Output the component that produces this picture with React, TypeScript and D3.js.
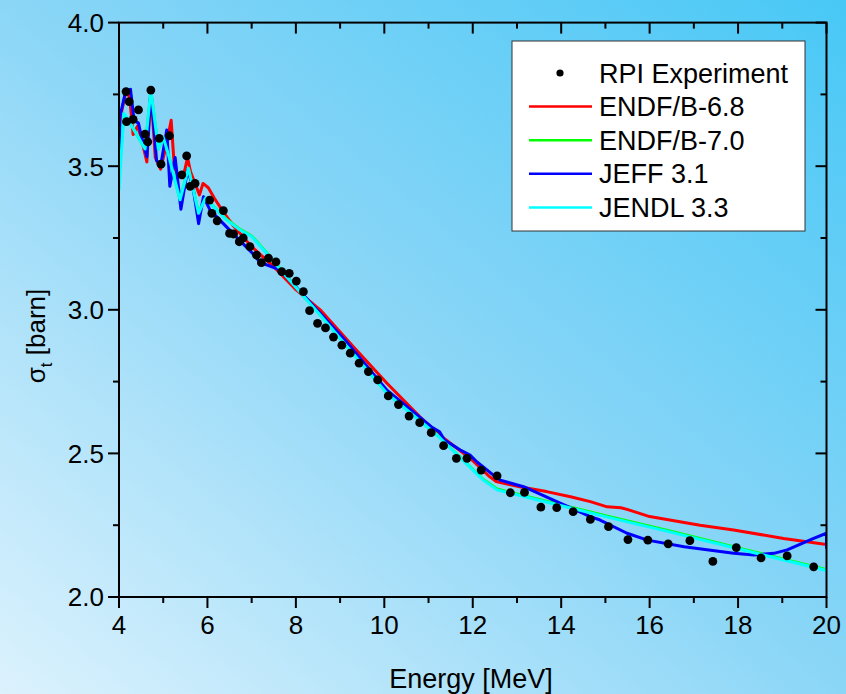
import React from "react";
import * as d3 from "d3";

const W = 846;
const H = 694;

// Experimental data (RPI)
const expE = [4.16, 4.17, 4.23, 4.32, 4.44, 4.59, 4.65, 4.72, 4.91, 4.95, 5.14, 5.42, 5.53, 5.61, 5.72, 6.05, 6.10, 6.22, 6.36, 6.50, 6.59, 6.72, 6.81, 6.96, 7.11, 7.22, 7.38, 7.55, 7.68, 7.85, 8.01, 8.17, 8.31, 8.49, 8.67, 8.85, 9.04, 9.23, 9.43, 9.64, 9.85, 10.09, 10.32, 10.56, 10.80, 11.06, 11.34, 11.63, 11.87, 12.19, 12.55, 12.85, 13.17, 13.54, 13.90, 14.27, 14.66, 15.07, 15.51, 15.96, 16.42, 16.91, 17.43, 17.96, 18.52, 19.11, 19.71];
const expS = [3.76, 3.655, 3.725, 3.663, 3.696, 3.612, 3.585, 3.765, 3.597, 3.507, 3.606, 3.47, 3.536, 3.43, 3.44, 3.382, 3.336, 3.31, 3.345, 3.266, 3.264, 3.237, 3.25, 3.22, 3.19, 3.164, 3.18, 3.167, 3.133, 3.127, 3.10, 3.063, 2.997, 2.953, 2.937, 2.905, 2.877, 2.849, 2.814, 2.785, 2.756, 2.70, 2.67, 2.63, 2.607, 2.572, 2.527, 2.483, 2.483, 2.442, 2.422, 2.363, 2.364, 2.313, 2.311, 2.297, 2.27, 2.245, 2.20, 2.198, 2.185, 2.196, 2.124, 2.172, 2.136, 2.143, 2.105];

// ENDF/B-6.8
const endf68E = [4.00, 4.03, 4.16, 4.24, 4.32, 4.42, 4.50, 4.63, 4.72, 4.82, 4.94, 5.05, 5.18, 5.25, 5.33, 5.45, 5.55, 5.62, 5.72, 5.82, 5.90, 6.02, 6.15, 6.36, 6.60, 7.00, 7.50, 8.00, 8.55, 9.30, 10.06, 10.80, 11.25, 11.94, 12.38, 12.53, 13.06, 13.67, 14.21, 14.66, 15.04, 15.35, 15.49, 16.00, 17.14, 17.90, 19.03, 20.00];
const endf68S = [3.58, 3.67, 3.762, 3.74, 3.61, 3.64, 3.60, 3.515, 3.765, 3.53, 3.49, 3.56, 3.66, 3.50, 3.47, 3.46, 3.53, 3.48, 3.44, 3.40, 3.44, 3.425, 3.39, 3.34, 3.29, 3.22, 3.15, 3.07, 3.00, 2.871, 2.744, 2.628, 2.564, 2.483, 2.419, 2.402, 2.384, 2.367, 2.349, 2.332, 2.314, 2.311, 2.305, 2.28, 2.25, 2.233, 2.204, 2.183];

// ENDF/B-7.0
const endf70E = [4.00, 4.11, 4.25, 4.59, 4.72, 4.89, 5.00, 5.11, 5.38, 5.57, 5.80, 5.95, 6.13, 6.43, 6.74, 7.00, 7.34, 7.72, 8.25, 8.55, 10.06, 11.19, 12.24, 12.55, 13.50, 15.00, 16.50, 18.00, 20.00];
const endf70S = [3.47, 3.68, 3.65, 3.56, 3.762, 3.56, 3.60, 3.545, 3.384, 3.492, 3.337, 3.389, 3.361, 3.315, 3.28, 3.257, 3.199, 3.129, 3.035, 2.983, 2.71, 2.565, 2.409, 2.376, 2.34, 2.283, 2.228, 2.171, 2.095];

// JEFF 3.1
const jeffE = [4.00, 4.02, 4.14, 4.26, 4.34, 4.44, 4.49, 4.63, 4.72, 4.85, 4.94, 5.08, 5.15, 5.27, 5.40, 5.55, 5.67, 5.80, 5.91, 6.06, 6.36, 6.74, 7.00, 7.20, 7.35, 7.64, 9.11, 10.06, 11.06, 11.25, 11.36, 11.72, 11.94, 12.09, 12.46, 12.62, 13.15, 13.90, 14.66, 14.88, 15.49, 15.95, 16.78, 17.90, 18.36, 18.81, 19.11, 19.71, 20.00, 20.00];
const jeffS = [3.50, 3.672, 3.754, 3.768, 3.66, 3.65, 3.615, 3.533, 3.765, 3.52, 3.50, 3.626, 3.43, 3.53, 3.35, 3.487, 3.43, 3.30, 3.394, 3.347, 3.30, 3.24, 3.20, 3.164, 3.156, 3.139, 2.895, 2.72, 2.593, 2.575, 2.547, 2.512, 2.494, 2.471, 2.425, 2.407, 2.384, 2.332, 2.28, 2.268, 2.222, 2.198, 2.175, 2.152, 2.146, 2.152, 2.164, 2.204, 2.222, 2.168];

// JENDL 3.3
const jendlE = [4.00, 4.11, 4.25, 4.59, 4.72, 4.89, 5.00, 5.11, 5.38, 5.57, 5.80, 5.95, 6.13, 6.43, 6.74, 7.00, 7.34, 7.72, 8.25, 8.55, 10.06, 11.19, 12.24, 12.55, 13.50, 15.00, 16.50, 18.00, 20.00];
const jendlS = [3.415, 3.684, 3.65, 3.56, 3.765, 3.56, 3.60, 3.545, 3.383, 3.493, 3.336, 3.388, 3.36, 3.313, 3.278, 3.255, 3.197, 3.127, 3.034, 2.982, 2.709, 2.564, 2.407, 2.373, 2.337, 2.28, 2.225, 2.168, 2.092];

const xMajorTicks = [4, 6, 8, 10, 12, 14, 16, 18, 20];
const xMinorTicks = [5, 7, 9, 11, 13, 15, 17, 19];
const yMajorTicks = [2.0, 2.5, 3.0, 3.5, 4.0];
const yMinorTicks = [2.25, 2.75, 3.25, 3.75];
const xTickLabels = ["4", "6", "8", "10", "12", "14", "16", "18", "20"];
const yTickLabels = ["2.0", "2.5", "3.0", "3.5", "4.0"];

const seriesNames = ["ENDF/B-6.8", "ENDF/B-7.0", "JEFF 3.1", "JENDL 3.3"];
const seriesColors = ["#ff0000", "#00ff00", "#0000ff", "#00ffff"];

const FONT = "'Liberation Sans', Arial, Helvetica, sans-serif";

export default function App() {
  const x = d3.scaleLinear().domain([4, 20]).range([119, 826.5]);
  const y = d3.scaleLinear().domain([2, 4]).range([597, 22.6]);

  const series = [
    { E: endf68E, S: endf68S },
    { E: endf70E, S: endf70S },
    { E: jeffE, S: jeffS },
    { E: jendlE, S: jendlS },
  ];
  const line = d3
    .line<[number, number]>()
    .x((d) => x(d[0]))
    .y((d) => y(d[1]));

  const x0 = x(4), x1 = x(20), yTop = y(4), yBot = y(2);
  const MAJ = 11, MIN = 6;

  const legendX = 512, legendY = 41, legendW = 293, legendH = 190;
  const rowY = (i: number) => 73 + i * 33.6;

  return (
    <svg
      width={W}
      height={H}
      style={{ position: "absolute", left: 0, top: 0, display: "block" }}
      fontFamily={FONT}
    >
      <defs>
        <linearGradient id="bg" x1="0" y1="1" x2="1" y2="0">
          <stop offset="0" stopColor="#dcf2fd" />
          <stop offset="0.5" stopColor="#8bd6f7" />
          <stop offset="1" stopColor="#48c8f6" />
        </linearGradient>
        <clipPath id="plotclip">
          <rect x={x0} y={yTop} width={x1 - x0} height={yBot - yTop} />
        </clipPath>
      </defs>
      <rect x={0} y={0} width={W} height={H} fill="url(#bg)" />

      {/* series lines */}
      <g clipPath="url(#plotclip)">
        {series.map((s, i) => (
          <path
            key={i}
            d={line(s.E.map((e, j) => [e, s.S[j]] as [number, number])) || ""}
            fill="none"
            stroke={seriesColors[i]}
            strokeWidth={3}
            strokeLinejoin="round"
          />
        ))}
      </g>

      {/* experiment points */}
      <g>
        {expE.map((e, i) => (
          <circle key={i} cx={x(e)} cy={y(expS[i])} r={4.4} fill="#000" />
        ))}
      </g>

      {/* frame */}
      <rect x={x0} y={yTop} width={x1 - x0} height={yBot - yTop} fill="none" stroke="#000" strokeWidth={2} />

      {/* bottom axis ticks (outward) and top ticks (inward) */}
      {xMajorTicks.map((t, i) => (
        <g key={"xm" + i}>
          <line x1={x(t)} x2={x(t)} y1={yBot} y2={yBot + MAJ} stroke="#000" strokeWidth={2} />
          <line x1={x(t)} x2={x(t)} y1={yTop} y2={yTop + MAJ} stroke="#000" strokeWidth={2} />
          <text x={x(t)} y={634} textAnchor="middle" fontSize={26} fill="#000">
            {xTickLabels[i]}
          </text>
        </g>
      ))}
      {xMinorTicks.map((t, i) => (
        <g key={"xn" + i}>
          <line x1={x(t)} x2={x(t)} y1={yBot} y2={yBot + MIN} stroke="#000" strokeWidth={2} />
          <line x1={x(t)} x2={x(t)} y1={yTop} y2={yTop + MIN} stroke="#000" strokeWidth={2} />
        </g>
      ))}

      {/* left axis ticks (outward) and right ticks (inward) */}
      {yMajorTicks.map((t, i) => (
        <g key={"ym" + i}>
          <line x1={x0 - MAJ} x2={x0} y1={y(t)} y2={y(t)} stroke="#000" strokeWidth={2} />
          <line x1={x1 - MAJ} x2={x1} y1={y(t)} y2={y(t)} stroke="#000" strokeWidth={2} />
          <text x={104} y={y(t) + 9.3} textAnchor="end" fontSize={26} fill="#000">
            {yTickLabels[i]}
          </text>
        </g>
      ))}
      {yMinorTicks.map((t, i) => (
        <g key={"yn" + i}>
          <line x1={x0 - MIN} x2={x0} y1={y(t)} y2={y(t)} stroke="#000" strokeWidth={2} />
          <line x1={x1 - MIN} x2={x1} y1={y(t)} y2={y(t)} stroke="#000" strokeWidth={2} />
        </g>
      ))}

      {/* axis titles */}
      <text x={471} y={688} textAnchor="middle" fontSize={27} fill="#000">
        Energy [MeV]
      </text>
      <text
        transform="translate(45,336) rotate(-90)"
        textAnchor="middle"
        fontSize={26}
        fill="#000"
      >
        σ<tspan fontSize={17} dy={7}>t</tspan>
        <tspan dy={-7}> [barn]</tspan>
      </text>

      {/* legend */}
      <rect x={legendX} y={legendY} width={legendW} height={legendH} fill="#fff" stroke="#333" strokeWidth={1} />
      <circle cx={560} cy={rowY(0)} r={3.6} fill="#000" />
      <text x={599} y={rowY(0) + 9.5} fontSize={27} fill="#000">
        RPI Experiment
      </text>
      {seriesNames.map((n, i) => (
        <g key={"lg" + i}>
          <line x1={529} x2={592} y1={rowY(i + 1)} y2={rowY(i + 1)} stroke={seriesColors[i]} strokeWidth={2.5} />
          <text x={599} y={rowY(i + 1) + 9.5} fontSize={27} fill="#000">
            {n}
          </text>
        </g>
      ))}
    </svg>
  );
}
